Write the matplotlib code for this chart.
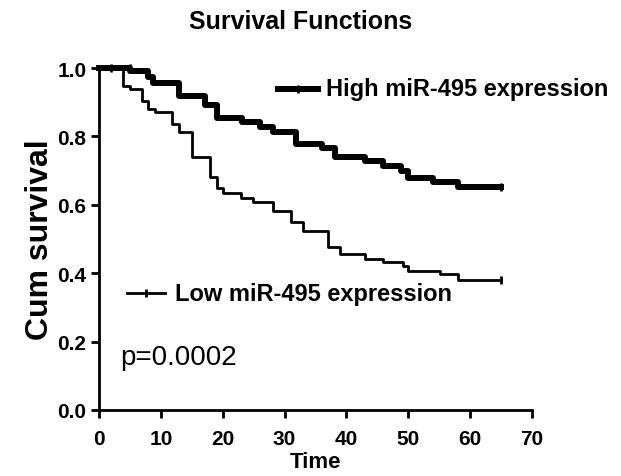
import matplotlib
matplotlib.use("Agg")
import matplotlib.pyplot as plt
import numpy as np

plt.rcParams['font.family'] = ['Liberation Sans', 'DejaVu Sans']

# step times and survival after each step
high_t = [0, 5.0, 7.9, 8.7, 12.9, 17.1, 19.1, 23.1, 26.0, 28.1, 31.8, 36.0,
          38.1, 43.0, 45.9, 48.9, 49.9, 54.0, 58.0, 65.0]
high_s = [1.0, 0.99, 0.975, 0.956, 0.918, 0.893, 0.854, 0.842, 0.828, 0.813,
          0.778, 0.766, 0.740, 0.728, 0.713, 0.699, 0.678, 0.667, 0.652, 0.652]
high_cens_t = [2.0, 5.0, 65.0]
high_cens_s = [1.0, 1.0, 0.652]

low_t = [0, 3.9, 5.0, 6.9, 7.9, 9.0, 11.8, 12.9, 15.0, 17.9, 19.0, 20.0, 23.0,
         24.9, 28.2, 31.1, 33.0, 37.0, 38.9, 43.0, 45.9, 49.2, 50.0, 55.1, 58.0, 65.0]
low_s = [1.0, 0.948, 0.94, 0.904, 0.88, 0.870, 0.836, 0.813, 0.74, 0.681, 0.650,
         0.635, 0.619, 0.609, 0.583, 0.549, 0.524, 0.476, 0.456, 0.442, 0.432,
         0.422, 0.407, 0.398, 0.381, 0.381]
low_cens_t = [65.0]
low_cens_s = [0.381]

x_ticks = [0, 10, 20, 30, 40, 50, 60, 70]
y_ticks = [0.0, 0.2, 0.4, 0.6, 0.8, 1.0]

fig = plt.figure(figsize=(6.21, 4.77), dpi=100)
ax = fig.add_axes([99 / 621, 1 - 411 / 477, 433 / 621, 342 / 477])

ax.step(high_t, high_s, where='post', color='black', lw=4.3, clip_on=False)
ax.plot(high_cens_t, high_cens_s, ls='none', marker='|', ms=6, mew=2,
        color='black', clip_on=False)
ax.step(low_t, low_s, where='post', color='black', lw=2, clip_on=False)
ax.plot(low_cens_t, low_cens_s, ls='none', marker='|', ms=6, mew=2,
        color='black', clip_on=False)

ax.set_xlim(0, 70)
ax.set_ylim(0, 1.0)
ax.set_xticks(x_ticks)
ax.set_xticklabels([str(v) for v in x_ticks])
ax.set_yticks(y_ticks)
ax.set_yticklabels([f"{v:.1f}" for v in y_ticks])
for lab in ax.get_xticklabels() + ax.get_yticklabels():
    lab.set_fontweight('bold')
    lab.set_fontsize(15)

for s in ['top', 'right']:
    ax.spines[s].set_visible(False)
for s in ['left', 'bottom']:
    ax.spines[s].set_linewidth(2)
ax.tick_params(direction='out', length=6, width=2)
ax.tick_params(axis='x', pad=8)
ax.tick_params(axis='y', pad=3)

fig.text(301 / 621, 1 - 22 / 477, "Survival Functions", fontsize=18,
         fontweight='bold', ha='center', va='center')
ax.set_xlabel("Time", fontsize=16, fontweight='bold', labelpad=2)
ax.set_ylabel("Cum survival", fontsize=23, fontweight='bold', labelpad=2)

# legend entries drawn by hand
ax.plot([(278 - 99) / 6.19, (318 - 99) / 6.19], [0.94, 0.94], color='black', lw=4.3)
ax.plot([(298 - 99) / 6.19], [0.94], marker='|', ms=6, mew=2, color='black')
ax.text((326 - 99) / 6.19, 0.94, "High miR-495 expression", fontsize=17,
        fontweight='bold', va='center', ha='left')
ax.plot([(127 - 99) / 6.19, (165 - 99) / 6.19], [0.341, 0.341], color='black', lw=2)
ax.plot([(146 - 99) / 6.19], [0.341], marker='|', ms=6, mew=2, color='black')
ax.text((175 - 99) / 6.19, 0.341, "Low miR-495 expression", fontsize=17,
        fontweight='bold', va='center', ha='left')

ax.text((120 - 99) / 6.19, 0.155, "p=0.0002", fontsize=20, va='center', ha='left')

fig.savefig("out.png", dpi=100)
